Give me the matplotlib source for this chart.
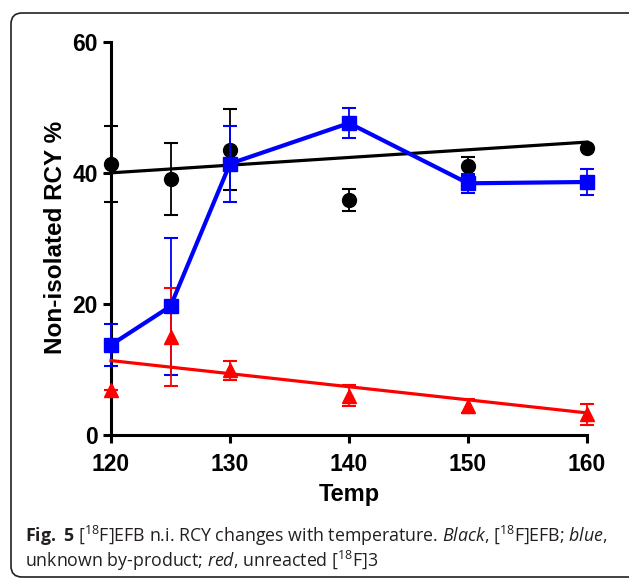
import matplotlib
matplotlib.use("Agg")
import matplotlib.pyplot as plt
from matplotlib.patches import FancyBboxPatch

# ---- data ----
temps = [120, 125, 130, 140, 150, 160]
black_mean = [41.3, 39.0, 43.5, 35.9, 41.0, 43.8]
black_err = [5.8, 5.5, 6.2, 1.7, 1.4, 0.0]
blue_mean = [13.7, 19.6, 41.4, 47.6, 38.4, 38.6]
blue_err = [3.2, 10.5, 5.8, 2.3, 1.45, 2.05]
red_mean = [6.8, 14.9, 9.8, 5.9, 4.4, 3.1]
red_err = [0.0, 7.5, 1.5, 1.6, 1.1, 1.6]
fit_x = [120, 160]
black_fit = [40.0, 44.7]
red_fit = [11.3, 3.3]
x_ticks = [120, 130, 140, 150, 160]
y_ticks = [0, 20, 40, 60]

plt.rcParams['mathtext.fontset'] = 'custom'
plt.rcParams['mathtext.rm'] = 'Open Sans'
plt.rcParams['mathtext.it'] = 'Open Sans:italic'
plt.rcParams['mathtext.bf'] = 'Open Sans:bold'

W, H = 629, 580
fig = plt.figure(figsize=(W / 100, H / 100), dpi=100)
ax = fig.add_axes([111 / W, 1 - 434.5 / H, 476 / W, 392.5 / H])

BLUE = '#0000ff'
RED = '#ff0000'
ekw = dict(elinewidth=1.3, capthick=1.5, capsize=5, clip_on=False)

# black
ax.plot(fit_x, black_fit, color='black', lw=2.3, zorder=3, clip_on=False)
ax.errorbar(temps, black_mean, yerr=black_err, fmt='o', color='black',
            ms=10, zorder=4, **ekw)
# errorbars blue and red
ax.errorbar(temps, blue_mean, yerr=blue_err, fmt='none', ecolor=BLUE, zorder=5, **ekw)
ax.errorbar(temps, red_mean, yerr=red_err, fmt='none', ecolor=RED, zorder=6, **ekw)
# blue line + markers
ax.plot(temps, blue_mean, color=BLUE, lw=3, marker='s', ms=9.5, zorder=7, clip_on=False)
# red fit + markers
ax.plot(fit_x, red_fit, color=RED, lw=2.3, zorder=8, clip_on=False)
ax.plot(temps, red_mean, ls='none', color=RED, marker='^', ms=10, zorder=9, clip_on=False)

ax.set_xlim(120, 160)
ax.set_ylim(0, 60)
ax.set_xticks(x_ticks)
ax.set_yticks(y_ticks)
for s in ['top', 'right']:
    ax.spines[s].set_visible(False)
for s in ['left', 'bottom']:
    ax.spines[s].set_linewidth(2.2)
    ax.spines[s].set_zorder(2)
ax.tick_params(direction='out', length=5.5, width=2.2)
ax.tick_params(axis='x', pad=8)
ax.tick_params(axis='y', pad=4)
for lab in ax.get_xticklabels() + ax.get_yticklabels():
    lab.set_fontfamily('Liberation Sans')
    lab.set_fontweight('bold')
    lab.set_fontsize(16.5)

ax.set_xlabel('Temp', fontfamily='Liberation Sans', fontweight='bold', fontsize=17)
ax.set_ylabel('Non-isolated RCY %', fontfamily='Liberation Sans', fontweight='bold',
              fontsize=17.5)
ax.xaxis.set_label_coords(0.5, -(494 - 434.5) / 392.5)
ax.yaxis.set_label_coords(-(111 - 55) / 476, (434.5 - 237) / 392.5)
ax.xaxis.label.set_va('center')
ax.yaxis.label.set_va('center')

# caption
cap1 = r"$\mathbf{Fig.\ 5}$ [$^{18}$F]EFB n.i. RCY changes with temperature. $\mathit{Black}$, [$^{18}$F]EFB; $\mathit{blue}$,"
cap2 = r"unknown by-product; $\mathit{red}$, unreacted [$^{18}$F]3"
fig.text(25 / W, 1 - 542 / H, cap1, fontfamily='Open Sans', fontsize=12.8,
         va='baseline', ha='left', color='#231f20')
fig.text(25 / W, 1 - 567 / H, cap2, fontfamily='Open Sans', fontsize=12.8,
         va='baseline', ha='left', color='#231f20')

# border
box = FancyBboxPatch((11, 3), 640, H - 16, boxstyle='round,pad=0,rounding_size=11',
                     transform=None, fill=False, lw=1.2, edgecolor='#222222')
fig.patches.append(box)

fig.savefig('out.png', dpi=100)
